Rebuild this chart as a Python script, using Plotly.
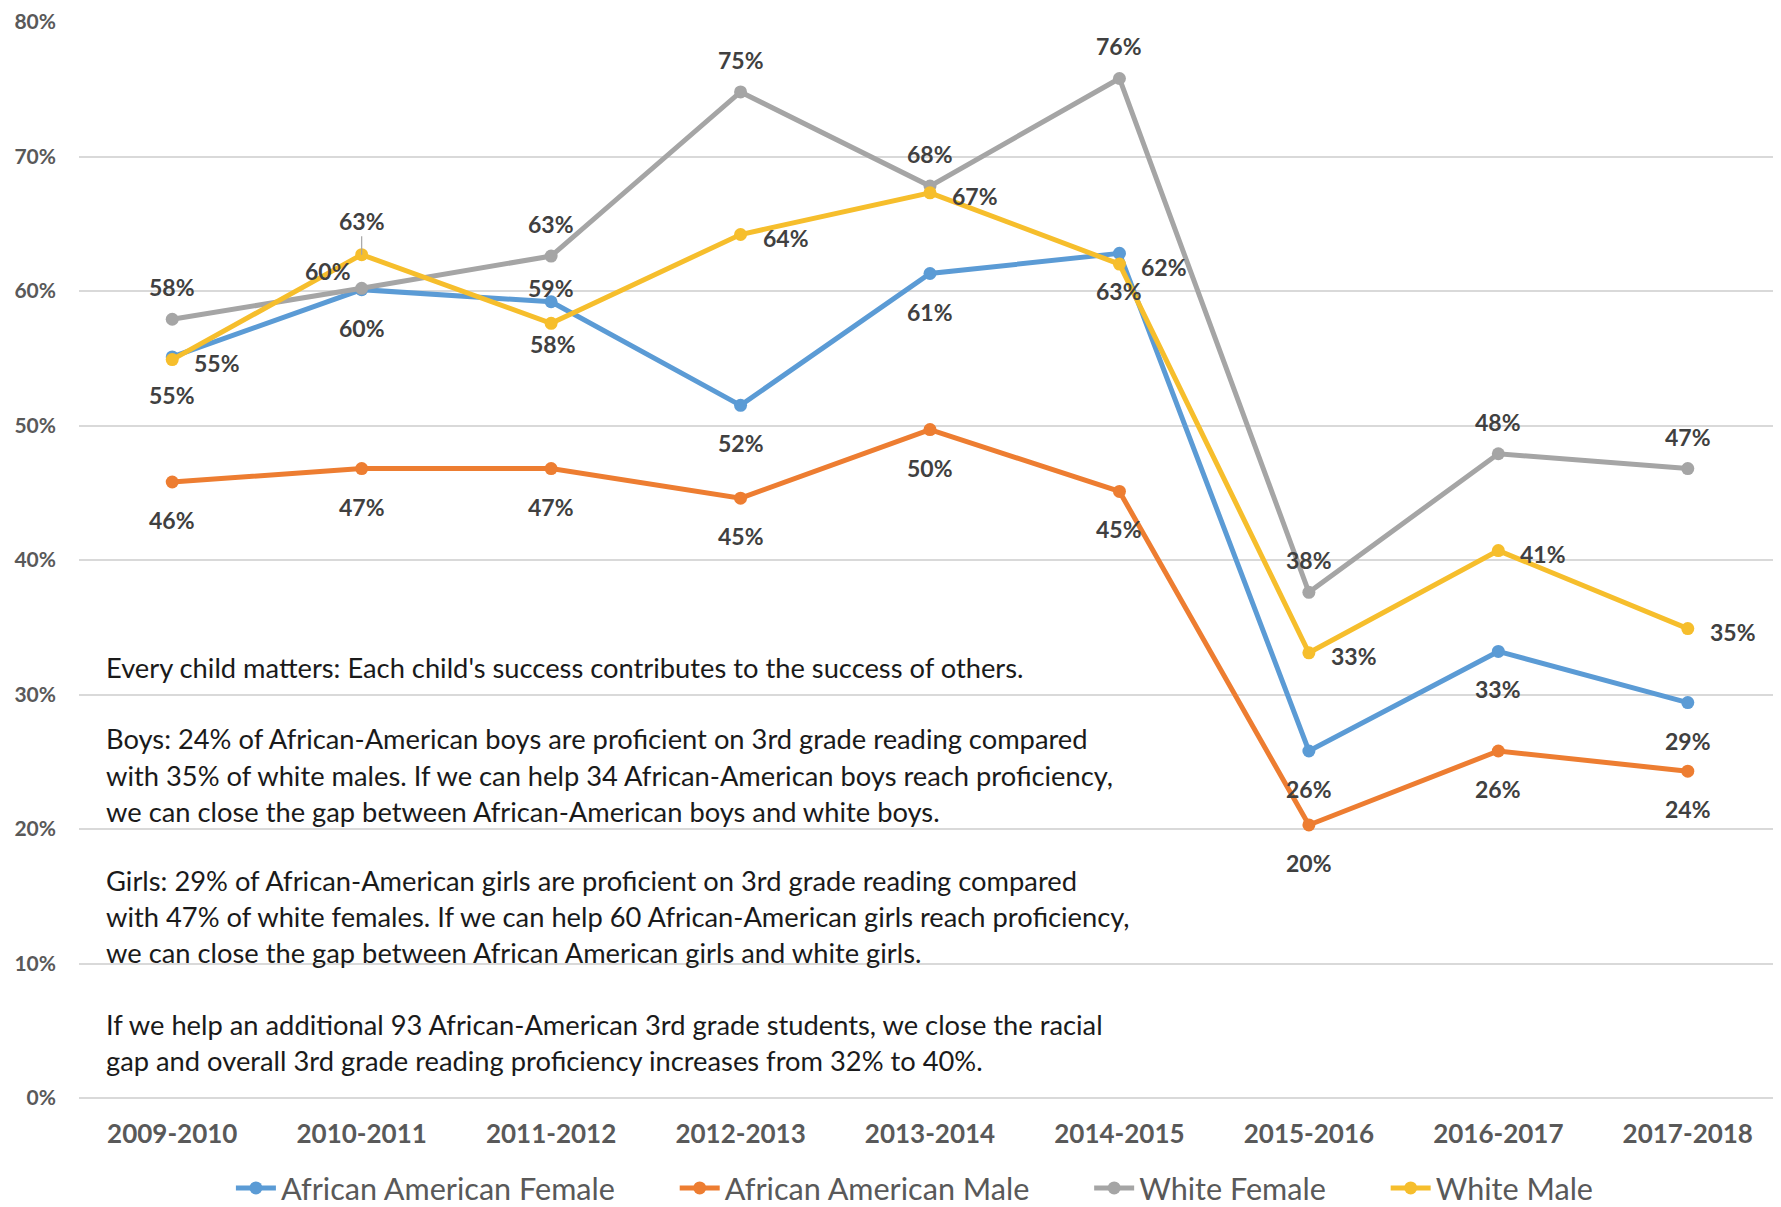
import plotly.graph_objects as go

# school years on the category axis
years = ["2009-2010", "2010-2011", "2011-2012", "2012-2013", "2013-2014",
         "2014-2015", "2015-2016", "2016-2017", "2017-2018"]

# 3rd grade reading proficiency, share of students
aa_female = [0.551, 0.601, 0.592, 0.515, 0.613, 0.628, 0.258, 0.332, 0.294]
aa_male = [0.458, 0.468, 0.468, 0.446, 0.497, 0.451, 0.203, 0.258, 0.243]
white_female = [0.579, 0.602, 0.626, 0.748, 0.678, 0.758, 0.376, 0.479, 0.468]
white_male = [0.549, 0.627, 0.576, 0.642, 0.673, 0.620, 0.331, 0.407, 0.349]

y_ticks = [0, 0.1, 0.2, 0.3, 0.4, 0.5, 0.6, 0.7, 0.8]

note_lines = [
    "Every child matters: Each child's success contributes to the success of others.",
    "Boys: 24% of African-American boys are proficient on 3rd grade reading compared",
    "with 35% of white males. If we can help 34 African-American boys reach proficiency,",
    "we can close the gap between African-American boys and white boys.",
    "Girls: 29% of African-American girls are proficient on 3rd grade reading compared",
    "with 47% of white females. If we can help 60 African-American girls reach proficiency,",
    "we can close the gap between African American girls and white girls.",
    "If we help an additional 93 African-American 3rd grade students, we close the racial",
    "gap and overall 3rd grade reading proficiency increases from 32% to 40%.",
]

# --- styling -------------------------------------------------------------
# the page body adds an 8px offset, so the figure is laid out 8px up/left
W, H = 1781, 1207
M_L, M_R, M_T, M_B = 71, 8, 14, 117
PLOT_H = H - M_T - M_B

LABEL_FONT = dict(family="Lato", size=23, color="#404040", weight="bold")
TICK_COLOR = "#595959"
PAD = "\u00a0" * 7  # extra room between legend entries

# label offsets in px (dx, dy; dy positive = down)
B, A, R = (0, 38), (0, -32), (45, 3)
series = [
    ("African American Female", aa_female, "#5B9BD5",
     [B, B, (0, -14), B, B, B, B, B, B]),
    ("African American Male", aa_male, "#ED7D31",
     [B, B, B, B, B, B, B, B, B]),
    ("White Female", white_female, "#A5A5A5",
     [A, (-34, -17), A, A, A, A, A, A, A]),
    ("White Male", white_male, "#F6BE2C",
     [R, None, (2, 21), R, R, R, R, R, R]),
]

# vertical centres of the note lines, in figure px
note_px = [659, 730, 767, 803, 872, 908, 944, 1016, 1052]


def px_to_paper(py):
    return (H - M_B - py) / PLOT_H


fig = go.Figure()
annotations = []

for name, vals, color, offs in series:
    fig.add_trace(go.Scatter(
        x=years, y=vals, name=name + PAD, mode="lines+markers",
        line=dict(color=color, width=5),
        marker=dict(color=color, size=13),
    ))
    for yr, v, off in zip(years, vals, offs):
        txt = f"{round(v * 100):.0f}%"
        if off is None:
            # label lifted above the point with a leader line
            annotations.append(dict(
                x=yr, y=v, text=txt, showarrow=True, ax=0, ay=-34,
                arrowhead=0, arrowwidth=1.2, arrowcolor="#A5A5A5",
                standoff=0, font=LABEL_FONT,
            ))
        else:
            annotations.append(dict(
                x=yr, y=v, text=txt, showarrow=False,
                xshift=off[0], yshift=-off[1], font=LABEL_FONT,
            ))

for line, py in zip(note_lines, note_px):
    annotations.append(dict(
        xref="paper", yref="paper", x=(96 - M_L) / (W - M_L - M_R),
        y=px_to_paper(py), xanchor="left", yanchor="middle",
        text=line, showarrow=False,
        font=dict(family="Lato", size=27.3, color="#1a1a1a"),
    ))

fig.update_layout(
    width=W, height=H,
    margin=dict(l=M_L, r=M_R, t=M_T, b=M_B, autoexpand=False),
    paper_bgcolor="white", plot_bgcolor="white",
    annotations=annotations,
    showlegend=True,
    legend=dict(
        orientation="h", x=0.507, xanchor="center",
        y=px_to_paper(1180), yanchor="middle",
        font=dict(family="Lato", size=30.6, color=TICK_COLOR),
        itemwidth=40, tracegroupgap=0,
    ),
    xaxis=dict(
        type="category", showgrid=False, zeroline=False,
        showline=False, ticks="", ticklabelstandoff=18,
        tickfont=dict(family="Lato", size=26, color=TICK_COLOR, weight="bold"),
    ),
    yaxis=dict(
        range=[0, 0.8], tickvals=y_ticks, tickformat=".0%",
        showgrid=True, gridcolor="#D9D9D9", gridwidth=2,
        zeroline=True, zerolinecolor="#D9D9D9", zerolinewidth=2,
        showline=False, ticks="", ticklabelstandoff=22,
        ticklabeloverflow="allow",
        tickfont=dict(family="Lato", size=21, color=TICK_COLOR, weight="bold"),
    ),
    font=dict(family="Lato"),
)

fig.write_html("out.html")
